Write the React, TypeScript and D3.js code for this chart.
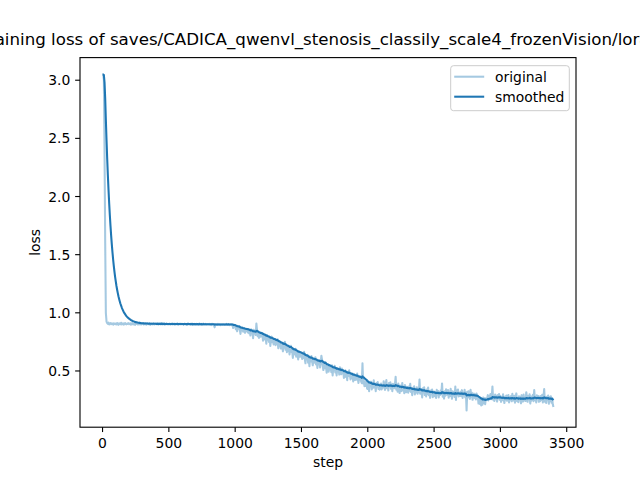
import React from "react";
import * as d3 from "d3";

const TITLE =
  "Training loss of saves/CADICA_qwenvl_stenosis_classily_scale4_frozenVision/lora/sft";
const X_LABEL = "step";
const Y_LABEL = "loss";
const SERIES_LABELS = ["original", "smoothed"];
const LOG_INTERVAL = 5;
const xTicks = [0, 500, 1000, 1500, 2000, 2500, 3000, 3500];
const yTicks = [0.5, 1.0, 1.5, 2.0, 2.5, 3.0];

// original loss, logged every 5 steps (0 .. 3400)
const original = [
  3.05, 3.048, 3.0, 2.4, 1.6, 1.0, 0.925, 0.912, 0.905, 0.915, 0.9, 0.908, 0.912, 0.902, 0.91, 0.905, 0.898, 0.91, 0.906, 0.903,
  0.908, 0.9, 0.912, 0.904, 0.897, 0.91, 0.906, 0.902, 0.915, 0.9, 0.905, 0.909, 0.899, 0.907, 0.912, 0.903, 0.9, 0.908, 0.905, 0.911,
  0.902, 0.906, 0.91, 0.898, 0.905, 0.913, 0.9, 0.907, 0.903, 0.896, 0.909, 0.905, 0.911, 0.901, 0.906, 0.9, 0.914, 0.904, 0.899, 0.907,
  0.905, 0.91, 0.9, 0.906, 0.903, 0.912, 0.898, 0.906, 0.909, 0.902, 0.904, 0.91, 0.897, 0.905, 0.908, 0.901, 0.906, 0.911, 0.9, 0.904,
  0.907, 0.902, 0.905, 0.91, 0.899, 0.904, 0.908, 0.901, 0.906, 0.912, 0.9, 0.905, 0.903, 0.909, 0.898, 0.904, 0.907, 0.902, 0.906, 0.9,
  0.904, 0.908, 0.899, 0.905, 0.902, 0.91, 0.9, 0.903, 0.907, 0.898, 0.905, 0.901, 0.906, 0.909, 0.897, 0.904, 0.902, 0.907, 0.9, 0.905,
  0.902, 0.906, 0.898, 0.904, 0.908, 0.9, 0.903, 0.897, 0.905, 0.909, 0.901, 0.904, 0.899, 0.906, 0.902, 0.908, 0.897, 0.903, 0.905, 0.9,
  0.903, 0.899, 0.906, 0.901, 0.904, 0.897, 0.908, 0.902, 0.9, 0.905, 0.896, 0.903, 0.907, 0.899, 0.902, 0.905, 0.898, 0.904, 0.9, 0.903,
  0.9, 0.905, 0.898, 0.902, 0.895, 0.906, 0.9, 0.903, 0.897, 0.875, 0.904, 0.899, 0.902, 0.896, 0.905, 0.9, 0.898, 0.903, 0.895, 0.901,
  0.902, 0.898, 0.904, 0.9, 0.896, 0.903, 0.899, 0.905, 0.897, 0.901, 0.903, 0.895, 0.9, 0.898, 0.902, 0.893, 0.899, 0.87, 0.895, 0.89,
  0.886, 0.859, 0.878, 0.841, 0.882, 0.863, 0.885, 0.855, 0.819, 0.87, 0.849, 0.874, 0.838, 0.861, 0.865, 0.828, 0.86, 0.845, 0.861, 0.832,
  0.861, 0.824, 0.847, 0.805, 0.858, 0.826, 0.842, 0.782, 0.855, 0.823, 0.838, 0.809, 0.907, 0.85, 0.798, 0.826, 0.784, 0.817, 0.795, 0.828,
  0.796, 0.824, 0.761, 0.809, 0.771, 0.809, 0.787, 0.734, 0.809, 0.769, 0.79, 0.75, 0.795, 0.715, 0.777, 0.795, 0.748, 0.775, 0.728, 0.772,
  0.767, 0.722, 0.757, 0.731, 0.773, 0.695, 0.747, 0.714, 0.736, 0.693, 0.743, 0.714, 0.669, 0.741, 0.701, 0.75, 0.682, 0.714, 0.661, 0.713,
  0.673, 0.705, 0.642, 0.694, 0.716, 0.664, 0.671, 0.613, 0.69, 0.642, 0.672, 0.691, 0.623, 0.645, 0.667, 0.6, 0.652, 0.666, 0.623, 0.648,
  0.655, 0.603, 0.635, 0.613, 0.665, 0.603, 0.566, 0.628, 0.606, 0.638, 0.571, 0.614, 0.541, 0.619, 0.581, 0.629, 0.587, 0.549, 0.604, 0.597,
  0.571, 0.618, 0.556, 0.588, 0.526, 0.591, 0.566, 0.593, 0.531, 0.571, 0.631, 0.598, 0.546, 0.508, 0.566, 0.523, 0.576, 0.535, 0.486, 0.55,
  0.546, 0.494, 0.552, 0.514, 0.532, 0.49, 0.548, 0.461, 0.53, 0.506, 0.544, 0.487, 0.518, 0.462, 0.525, 0.498, 0.516, 0.469, 0.531, 0.484,
  0.472, 0.52, 0.478, 0.502, 0.44, 0.488, 0.506, 0.449, 0.488, 0.421, 0.494, 0.457, 0.505, 0.464, 0.427, 0.477, 0.438, 0.479, 0.41, 0.466,
  0.47, 0.422, 0.459, 0.426, 0.478, 0.43, 0.397, 0.454, 0.426, 0.453, 0.409, 0.395, 0.566, 0.392, 0.418, 0.369, 0.405, 0.371, 0.404, 0.348,
  0.345, 0.398, 0.326, 0.4, 0.369, 0.408, 0.342, 0.381, 0.355, 0.419, 0.358, 0.382, 0.327, 0.396, 0.366, 0.405, 0.345, 0.378, 0.339, 0.387,
  0.392, 0.342, 0.377, 0.357, 0.412, 0.362, 0.337, 0.387, 0.422, 0.352, 0.38, 0.332, 0.397, 0.367, 0.402, 0.347, 0.384, 0.327, 0.39, 0.377,
  0.351, 0.385, 0.449, 0.339, 0.373, 0.322, 0.391, 0.35, 0.31, 0.374, 0.363, 0.327, 0.397, 0.336, 0.365, 0.309, 0.379, 0.348, 0.317, 0.363,
  0.359, 0.313, 0.367, 0.331, 0.39, 0.319, 0.348, 0.292, 0.356, 0.33, 0.369, 0.298, 0.345, 0.316, 0.36, 0.304, 0.345, 0.317, 0.426, 0.305,
  0.31, 0.344, 0.273, 0.351, 0.315, 0.359, 0.293, 0.327, 0.281, 0.34, 0.303, 0.357, 0.291, 0.325, 0.269, 0.331, 0.307, 0.341, 0.275, 0.321,
  0.323, 0.283, 0.313, 0.268, 0.338, 0.298, 0.328, 0.273, 0.318, 0.293, 0.333, 0.303, 0.393, 0.278, 0.32, 0.263, 0.326, 0.288, 0.343, 0.298,
  0.296, 0.336, 0.271, 0.321, 0.286, 0.346, 0.301, 0.261, 0.326, 0.291, 0.316, 0.276, 0.366, 0.251, 0.331, 0.296, 0.341, 0.281, 0.311, 0.286,
  0.321, 0.285, 0.335, 0.269, 0.309, 0.293, 0.338, 0.272, 0.312, 0.161, 0.321, 0.275, 0.325, 0.284, 0.259, 0.338, 0.278, 0.312, 0.252, 0.296,
  0.305, 0.269, 0.297, 0.255, 0.307, 0.268, 0.275, 0.22, 0.26, 0.217, 0.258, 0.203, 0.238, 0.21, 0.272, 0.225, 0.265, 0.215, 0.265, 0.26,
  0.262, 0.292, 0.247, 0.287, 0.267, 0.302, 0.257, 0.282, 0.367, 0.252, 0.277, 0.242, 0.297, 0.262, 0.287, 0.237, 0.292, 0.267, 0.302, 0.252,
  0.284, 0.234, 0.274, 0.249, 0.299, 0.259, 0.224, 0.279, 0.254, 0.289, 0.244, 0.269, 0.294, 0.229, 0.274, 0.254, 0.284, 0.239, 0.304, 0.249,
  0.247, 0.287, 0.227, 0.272, 0.307, 0.242, 0.267, 0.232, 0.282, 0.257, 0.277, 0.222, 0.292, 0.252, 0.237, 0.297, 0.247, 0.272, 0.242, 0.317,
  0.275, 0.235, 0.285, 0.255, 0.3, 0.22, 0.28, 0.245, 0.27, 0.295, 0.24, 0.335, 0.25, 0.275, 0.23, 0.29, 0.26, 0.285, 0.235, 0.28,
  0.24, 0.285, 0.25, 0.295, 0.23, 0.275, 0.345, 0.235, 0.27, 0.225, 0.278, 0.253, 0.288, 0.218, 0.273, 0.243, 0.283, 0.228, 0.268, 0.213,
  0.19,
];

// exponential moving average, as used by the training tool's plot
function smooth(scalars: number[]): number[] {
  let last = scalars[0];
  const weight = 1.8 * (1 / (1 + Math.exp(-0.05 * scalars.length)) - 0.5);
  return scalars.map((v) => {
    last = last * weight + (1 - weight) * v;
    return last;
  });
}

const W = 640;
const H = 480;
const M = { left: 80, right: 576, top: 57.6, bottom: 427.2 };
const FONT = "DejaVu Sans, sans-serif";
const COLOR = "#1f77b4";

export default function App() {
  const steps = original.map((_, i) => i * LOG_INTERVAL);
  const smoothed = smooth(original);
  const xMin = d3.min(steps)!, xMax = d3.max(steps)!;
  const yMin = Math.min(d3.min(original)!, d3.min(smoothed)!);
  const yMax = Math.max(d3.max(original)!, d3.max(smoothed)!);
  const xp = (xMax - xMin) * 0.05;
  const yp = (yMax - yMin) * 0.05;
  const x = d3.scaleLinear().domain([xMin - xp, xMax + xp]).range([M.left, M.right]);
  const y = d3.scaleLinear().domain([yMin - yp, yMax + yp]).range([M.bottom, M.top]);

  const line = d3
    .line<number>()
    .x((_, i) => x(steps[i]))
    .y((d) => y(d));

  const tickLen = 4.86;
  const fs = 13.9;
  const cx = (M.left + M.right) / 2;
  const cy = (M.top + M.bottom) / 2;

  // legend
  const lgX = 450.7, lgY = 65.7, lgW = 118.6, lgH = 45;
  const rows = [76.7, 96.7];

  return (
    <svg
      width={W}
      height={H}
      style={{ position: "absolute", left: 0, top: 0, background: "#fff" }}
      fontFamily={FONT}
    >
      <rect x={0} y={0} width={W} height={H} fill="#fff" />
      <defs>
        <clipPath id="plotclip">
          <rect x={M.left} y={M.top} width={M.right - M.left} height={M.bottom - M.top} />
        </clipPath>
      </defs>
      <g clipPath="url(#plotclip)">
        <path d={line(original) || ""} fill="none" stroke={COLOR} strokeOpacity={0.4} strokeWidth={2.08} strokeLinejoin="round" />
        <path d={line(smoothed) || ""} fill="none" stroke={COLOR} strokeWidth={2.08} strokeLinejoin="round" strokeLinecap="butt" />
      </g>
      <rect
        x={M.left}
        y={M.top}
        width={M.right - M.left}
        height={M.bottom - M.top}
        fill="none"
        stroke="#000"
        strokeWidth={1.11}
      />
      {xTicks.map((t) => (
        <g key={"x" + t}>
          <line x1={x(t)} x2={x(t)} y1={M.bottom} y2={M.bottom + tickLen} stroke="#000" strokeWidth={1.11} />
          <text x={x(t)} y={M.bottom + tickLen + 4.86 + 10.6} fontSize={fs} textAnchor="middle" fill="#000">
            {String(t)}
          </text>
        </g>
      ))}
      {yTicks.map((t) => (
        <g key={"y" + t}>
          <line x1={M.left - tickLen} x2={M.left} y1={y(t)} y2={y(t)} stroke="#000" strokeWidth={1.11} />
          <text x={M.left - tickLen - 4.86} y={y(t) + 5} fontSize={fs} textAnchor="end" fill="#000">
            {t.toFixed(1)}
          </text>
        </g>
      ))}
      <text x={cx} y={467} fontSize={fs} textAnchor="middle" fill="#000">
        {X_LABEL}
      </text>
      <text transform={`translate(40, ${cy}) rotate(-90)`} fontSize={fs} textAnchor="middle" fill="#000">
        {Y_LABEL}
      </text>
      <text x={cx} y={45.4} fontSize={16.67} textAnchor="middle" fill="#000">
        {TITLE}
      </text>
      <rect x={lgX} y={lgY} width={lgW} height={lgH} rx={2.8} fill="#fff" fillOpacity={0.8} stroke="#cccccc" strokeWidth={1} />
      {SERIES_LABELS.map((lab, i) => (
        <g key={lab}>
          <line
            x1={lgX + 3.5}
            x2={lgX + 3.5 + 30}
            y1={rows[i]}
            y2={rows[i]}
            stroke={COLOR}
            strokeOpacity={i === 0 ? 0.4 : 1}
            strokeWidth={2.08}
          />
          <text x={495} y={rows[i] + 5} fontSize={fs} fill="#000">
            {lab}
          </text>
        </g>
      ))}
    </svg>
  );
}
